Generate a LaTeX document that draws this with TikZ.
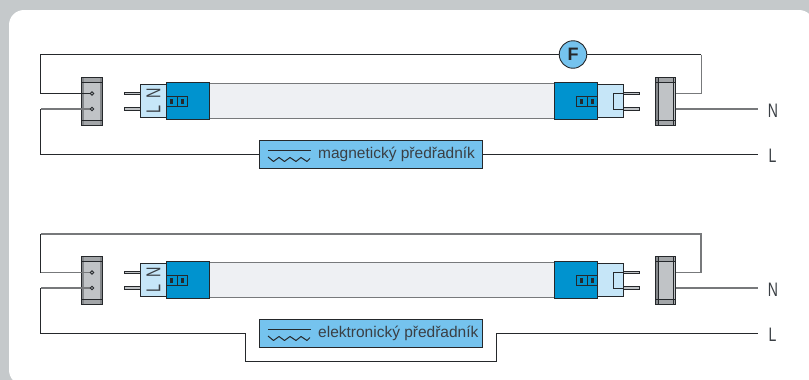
\documentclass[tikz,border=0pt]{standalone}
\usepackage{graphicx}
\usepackage{fontspec}
\setmainfont{Liberation Sans}
\definecolor{bggray}{HTML}{C5C9CB}
\definecolor{darkline}{HTML}{25282B}
\definecolor{midline}{HTML}{77797B}
\definecolor{holder}{HTML}{C0C3C6}
\definecolor{holderedge}{HTML}{85888B}
\definecolor{holderband}{HTML}{A3A6A9}
\definecolor{capblue}{HTML}{C6E6F8}
\definecolor{endblue}{HTML}{0093CF}
\definecolor{tubefill}{HTML}{EEF0F3}
\definecolor{boxblue}{HTML}{75C3EE}
\definecolor{textgray}{HTML}{3A3F44}
\tikzset{
  wire/.style={draw=darkline,line width=0.9pt},
  softwire/.style={draw=midline,line width=1.2pt},
  holderbox/.style={draw=darkline,fill=holder,line width=0.6pt},
  capbox/.style={draw=darkline,fill=capblue,line width=0.7pt},
  endbox/.style={draw=darkline,fill=endblue,line width=0.9pt},
  tubebox/.style={draw=midline,fill=tubefill,line width=0.9pt},
  ballastbox/.style={draw=darkline,fill=boxblue,line width=0.9pt},
  pinbar/.style={draw=darkline,fill=holder,line width=0.5pt},
  contact/.style={draw=darkline,line width=0.8pt},
  lab/.style={font=\fontsize{19.5}{20}\selectfont,text=textgray,inner sep=0pt},
  boxtext/.style={font=\fontsize{15.5}{17}\selectfont,text=textgray,inner sep=0pt,anchor=base west},
  caplet/.style={font=\fontsize{20}{20}\selectfont,text=textgray,inner sep=0pt}
}
\newcommand{\narrow}[1]{\scalebox{.72}[1]{#1}}
\newcommand{\lampset}[1]{%
  \begin{scope}[shift={(0,#1)}]
    % left holder
    \path[holderbox] (81.5,-16.5) rectangle (102,31.5);
    \fill[holderband] (81.5,-16.5) rectangle (102,-11.5);
    \fill[holderband] (81.5,26.5) rectangle (102,31.5);
    \fill[holderedge] (81.5,-16.5) rectangle (84,31.5);
    \fill[holderedge] (99.5,-16.5) rectangle (102,31.5);
    \draw[darkline,line width=0.6pt] (81.5,-16.5) rectangle (102,31.5);
    \draw[darkline,line width=0.7pt] (81.5,-11.5) -- (102,-11.5) (81.5,26.5) -- (102,26.5);
    % left pins
    \path[pinbar] (124.5,-1.2) rectangle (140.5,1.2);
    \path[pinbar] (124.5,14) rectangle (140.5,17);
    % tube
    \path[tubebox] (209.5,-10) rectangle (554.5,25);
    % left cap and end
    \path[capbox] (140.5,-9) rectangle (166,24);
    \path[endbox] (166,-11) rectangle (209.5,26);
    \node[caplet,rotate=90] at (153.5,0) {\narrow{N}};
    \node[caplet,rotate=90] at (153.5,15.5) {\narrow{L}};
    \foreach \xa/\xb in {166/177,177/187.5}{
      \draw[darkline,line width=0.9pt] (\xa,2.5) rectangle (\xb,12.5);
      \fill[darkline] ({(\xa+\xb)/2-1.3},5) rectangle ({(\xa+\xb)/2+1.3},10);
    }
    % right end and cap
    \path[capbox] (597.5,-9) rectangle (623,24);
    \path[endbox] (554.5,-11) rectangle (597.5,26);
    \foreach \xa/\xb in {576/587.5,587.5/597.5}{
      \draw[darkline,line width=0.9pt] (\xa,2.5) rectangle (\xb,12.5);
      \fill[darkline] ({(\xa+\xb)/2-1.3},5) rectangle ({(\xa+\xb)/2+1.3},10);
    }
    % right pins with bracket
    \draw[darkline,line width=0.7pt] (623.5,0) -- (613.5,0) -- (613.5,15.5) -- (623.5,15.5);
    \path[pinbar] (623,-1.2) rectangle (639,1.2);
    \path[pinbar] (623,14) rectangle (639,17);
    % right holder
    \path[holderbox] (655,-16.5) rectangle (675.5,31.5);
    \fill[holderband] (655,-16.5) rectangle (675.5,-11.5);
    \fill[holderband] (655,26.5) rectangle (675.5,31.5);
    \fill[holderedge] (655,-16.5) rectangle (658,31.5);
    \draw[darkline,line width=0.6pt] (655,-16.5) rectangle (675.5,31.5);
    \draw[darkline,line width=0.5pt] (658.5,-16.5) -- (658.5,31.5) (673,-16.5) -- (673,31.5);
    \draw[darkline,line width=0.7pt] (655,-11.5) -- (675.5,-11.5) (655,26.5) -- (675.5,26.5);
  \end{scope}%
}
\newcommand{\chokemark}[1]{%
  \begin{scope}[shift={(0,#1)}]
    \draw[darkline,line width=1pt] (268,0) -- (310.5,0);
    \draw[darkline,line width=1pt,line join=round]
      (268,7) -- (273.5,11.5) -- (279,7.5) -- (284.5,11.5) -- (290,7.5) -- (296,11.5) -- (301,7.5) -- (307,11.5) -- (310,8.5);
  \end{scope}%
}
\begin{document}
\begin{tikzpicture}[x=1pt,y=-1pt]
\useasboundingbox (0,0) rectangle (809,380);
\fill[bggray] (0,0) rectangle (809,380);
\fill[white,rounded corners=15pt] (9,10) rectangle (814,385);
% top diagram
\lampset{93.5}
\coordinate (tl) at (40.5,54.5);
\coordinate (tr) at (701,54.5);
\coordinate (hl1) at (92,93.5);
\coordinate (hl2) at (92,109);
\coordinate (sl) at (40.5,109);
\coordinate (hr1) at (675.5,93.5);
\coordinate (hr2) at (675.5,109);
\coordinate (ne) at (758,109);
\coordinate (le) at (758,154.5);
\node[circle,draw=darkline,fill=boxblue,line width=0.9pt,minimum size=27.5pt,inner sep=0pt,
  font=\fontsize{18}{18}\selectfont\bfseries,text=darkline] (fuse) at (573,54.5) {F};
\node[ballastbox,minimum width=223pt,minimum height=28pt,inner sep=0pt] (ballastA) at (370.5,154.5) {};
\draw[wire] (fuse) -- (tl) |- (hl1);
\draw[wire] (fuse) -- (tr);
\draw[softwire,line width=1pt] (tr) |- (hr1);
\draw[softwire] (hl2) -- (sl);
\draw[wire] (sl) |- (ballastA.west);
\draw[wire] (ballastA.east) -- (le);
\draw[softwire] (hr2) -- (ne);
\foreach \cy in {93.5,109}{\draw[contact,fill=holder] (92,\cy) circle (1.8);}
\chokemark{150}
\node[boxtext] (textA) at (318,158) {magnetický předřadník};
\node[lab] (nA) at (773,110.5) {\narrow{N}};
\node[lab] (lA) at (772.5,155.5) {\narrow{L}};
% bottom diagram
\lampset{272.5}
\coordinate (tl2) at (40.5,234);
\coordinate (tr2) at (701,234);
\coordinate (hlb1) at (92,272.5);
\coordinate (slb1) at (40.5,272.5);
\coordinate (hlb2) at (92,288);
\coordinate (slb2) at (40.5,288);
\coordinate (hrb1) at (675.5,272.5);
\coordinate (hrb2) at (675.5,288);
\coordinate (ne2) at (758,288);
\coordinate (le2) at (758,333.5);
\node[ballastbox,minimum width=223pt,minimum height=27.5pt,inner sep=0pt] (ballastB) at (370.5,333.25) {};
\draw[softwire] (hlb1) -- (slb1);
\draw[wire] (slb1) -- (tl2);
\draw[softwire] (tl2) -- (tr2) |- (hrb1);
\draw[softwire] (hlb2) -- (slb2);
\draw[wire] (slb2) |- (245,333.5) -- (245,361.5) -- (496,361.5) -- (496,333.5) -- (le2);
\draw[softwire] (hrb2) -- (ne2);
\foreach \cy in {272.5,288}{\draw[contact,fill=holder] (92,\cy) circle (1.8);}
\chokemark{329}
\node[boxtext] (textB) at (318,337.3) {elektronický předřadník};
\node[lab] (nB) at (773,290) {\narrow{N}};
\node[lab] (lB) at (772.5,334.5) {\narrow{L}};
\end{tikzpicture}
\end{document}
